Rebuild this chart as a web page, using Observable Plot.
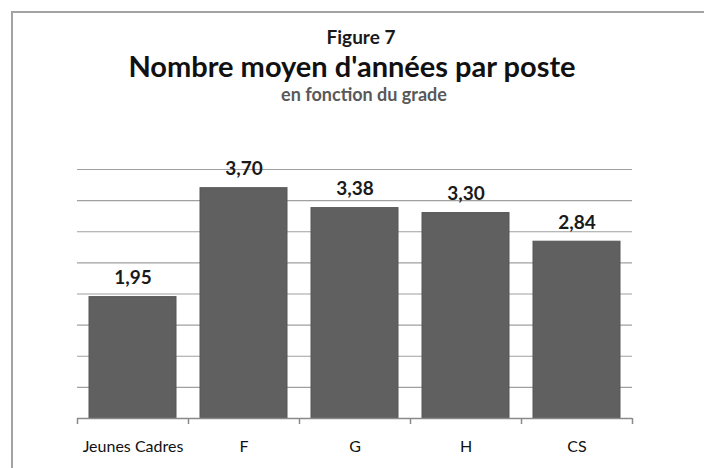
<!DOCTYPE html>
<html>
<head>
<meta charset="utf-8">
<script src="https://cdn.jsdelivr.net/npm/d3@7"></script>
<script src="https://cdn.jsdelivr.net/npm/@observablehq/plot@0.6"></script>
<style>
  html, body { margin: 0; padding: 0; background: #fff; overflow: hidden; }
  body { width: 704px; height: 468px; position: relative; font-family: Lato, "Open Sans", sans-serif; }
  #frame { position: absolute; left: 11px; top: 11px; width: 800px; height: 600px;
           border-left: 2px solid #a3a3a3; border-top: 2px solid #a3a3a3; pointer-events: none; }
  #header { position: relative; width: 704px; height: 140px; }
  .t { position: absolute; white-space: nowrap; transform: translate(-50%, -50%); font-weight: bold; line-height: 1; }
  #fig { left: 361px; top: 36px; font-size: 19px; color: #1a1a1a; }
  #title { left: 352px; top: 65px; font-size: 29px; color: #111; }
  #sub { left: 364px; top: 94px; font-size: 18px; color: #595959; }
  #chart svg { display: block; }
</style>
</head>
<body>
<div id="header">
  <div class="t" id="fig">Figure 7</div>
  <div class="t" id="title">Nombre moyen d'années par poste</div>
  <div class="t" id="sub">en fonction du grade</div>
</div>
<div id="chart"></div>
<div id="frame"></div>
<script>
const categories = ["Jeunes Cadres", "F", "G", "H", "CS"];
const values = [1.95, 3.70, 3.38, 3.30, 2.84];
const yTicks = [0.5, 1, 1.5, 2, 2.5, 3, 3.5, 4];

const data = categories.map((c, i) => ({grade: c, value: values[i]}));
const fmt = v => v.toFixed(2).replace(".", ",");

const width = 704, height = 328;
const marginLeft = 77, marginRight = 72, marginTop = 29, marginBottom = 50;
const step = (width - marginLeft - marginRight) / categories.length;

const chart = Plot.plot({
  width, height, marginLeft, marginRight, marginTop, marginBottom,
  style: {fontFamily: "Lato, 'Open Sans', sans-serif", background: "white"},
  x: {domain: categories, paddingInner: 0.22, paddingOuter: 0.11, axis: null, label: null},
  y: {domain: [0, 4], axis: null},
  marks: [
    Plot.ruleY(yTicks, {stroke: "#a0a0a0", strokeWidth: 1.2}),
    Plot.barY(data, {x: "grade", y: "value", fill: "#606060", stroke: "#575757", strokeWidth: 1}),
    Plot.ruleY([0], {stroke: "#8a8a8a", strokeWidth: 1.5}),
    Plot.ruleX(categories, {x: d => d, dx: -step / 2, y1: 0, y2: 0, insetBottom: -6, stroke: "#8a8a8a", strokeWidth: 1.5}),
    Plot.ruleX([categories[categories.length - 1]], {x: d => d, dx: step / 2, y1: 0, y2: 0, insetBottom: -6, stroke: "#8a8a8a", strokeWidth: 1.5}),
    Plot.text(data, {x: "grade", y: "value", text: d => fmt(d.value), dy: -19, fontSize: 19, fontWeight: "bold", fill: "#1a1a1a"}),
    Plot.axisX({domain: categories, tickSize: 0, tickPadding: 0, fontSize: 16, fill: "#111", dy: 22, label: null})
  ]
});
document.getElementById("chart").appendChild(chart);
</script>
</body>
</html>
